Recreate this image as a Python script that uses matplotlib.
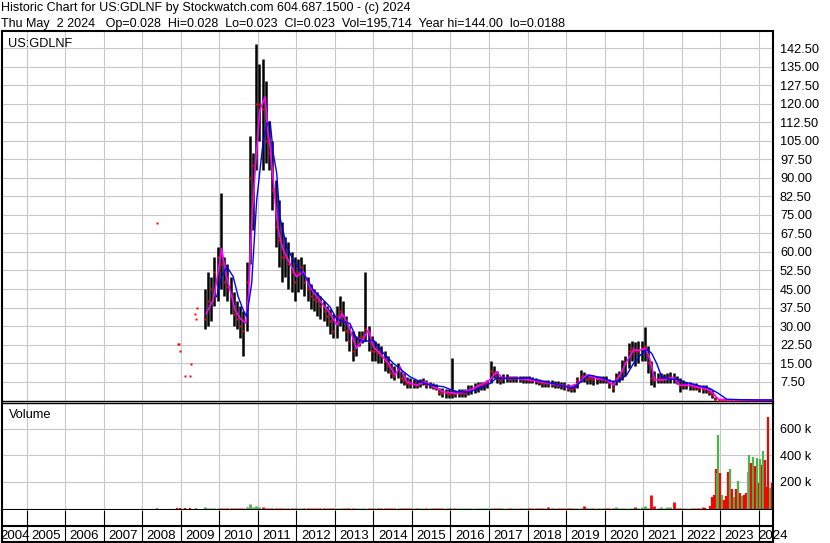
import numpy as np
import matplotlib
matplotlib.use("Agg")
import matplotlib.pyplot as plt

plt.rcParams['font.family'] = ['Liberation Sans', 'DejaVu Sans']

W, H = 830, 543

# ---- data ----
# monthly bars, Aug 2009 .. Apr 2024
high = [45, 52, 50, 58, 62,
        84, 58, 55, 50, 44, 40, 38, 36, 56, 107, 100, 144,
        136, 138, 129, 113, 105, 89, 81, 72, 66, 64, 60, 58,
        57, 58, 55, 50, 47, 45, 44, 42, 40, 38, 37, 35,
        38, 42, 40, 34, 30, 28, 26, 28, 28, 52, 30, 26,
        24, 23, 22, 20, 18, 15, 14, 15, 12, 11, 9.5, 9,
        8.5, 8, 8.5, 9, 8, 7.5, 7, 6.5, 5, 5, 4.5, 4.5,
        17, 4, 4.5, 4.5, 4.5, 6, 6, 7, 7.5, 7.5, 7.5, 8,
        16, 14, 12, 10, 10.5, 10.5, 10, 10, 10, 9.8, 9.8, 9.8,
        9.8, 9.5, 9, 8.5, 8.2, 8.2, 8, 8, 7.8, 7.8, 7.5, 7.5,
        6.5, 6, 6.5, 9.5, 12.2, 11.5, 10.5, 10.2, 10.2, 9.8, 9.8, 9.8,
        9.8, 8.5, 8, 11, 12, 16.3, 18, 23, 24, 23.7, 24, 24,
        29.7, 22, 16, 12, 11, 10.9, 10.5, 11, 11.5, 11, 10, 9,
        8, 7.5, 7.5, 7, 7, 6.1, 6, 6, 5, 4, 1.5, 0.6,
        0.5, 0.4, 0.3, 0.3, 0.25, 0.2, 0.2, 0.15, 0.15, 0.12, 0.1, 0.1,
        0.08, 0.06, 0.05, 0.04]
low = [29, 30, 32, 38, 40,
       45, 42, 40, 35, 30, 29, 25, 18, 28, 55, 69, 93,
       105, 93, 96, 93, 77, 62, 54, 48, 50, 45, 44, 40,
       44, 45, 42, 40, 37, 36, 34, 33, 32, 30, 27, 25,
       25, 30, 28, 24, 20, 16, 18, 22, 23, 24, 20, 16,
       16, 15, 15, 12, 11, 9, 8, 9, 7, 6, 5, 5,
       5, 4.8, 5.5, 6, 5, 5, 4.5, 4, 2, 1.5, 1, 1,
       1, 1.5, 1.5, 1.5, 1.5, 2, 2.5, 3, 3.5, 4, 4, 5,
       7, 9, 7, 6.5, 7, 7.5, 7.5, 7.5, 7.5, 7.2, 7, 7,
       7, 6.8, 6.5, 6, 5.5, 5.5, 5.2, 5.2, 5, 4.8, 4.5, 4.1,
       3.8, 3.4, 3.5, 4.8, 7.5, 7.5, 6.5, 6.5, 6.1, 6.5, 6.8, 6.8,
       6.8, 5, 3.4, 6, 7.5, 8.2, 10, 13, 16, 14, 15, 16,
       16, 11, 6, 5.5, 6.8, 6.8, 6.8, 7, 7, 6.8, 6.5, 3.4,
       4.5, 4.5, 4.3, 4.2, 4.1, 3.5, 3, 2.8, 2, 0.8, 0.3, 0.1,
       0.1, 0.1, 0.1, 0.08, 0.08, 0.06, 0.05, 0.05, 0.04, 0.04, 0.03, 0.03,
       0.025, 0.02, 0.02, 0.019]
close = [33, 40, 45, 52, 58,
         55, 48, 46, 42, 35, 33, 30, 28, 48, 90, 95, 120,
         120, 118, 105, 100, 85, 70, 65, 58, 58, 55, 52, 48,
         52, 54, 48, 45, 42, 41, 40, 38, 36, 34, 32, 28,
         34, 36, 32, 28, 24, 20, 22, 25, 26, 29, 24, 20,
         20, 19, 18, 16, 14, 11, 10, 13, 9, 8, 7, 6.5,
         6.5, 6, 7, 7.5, 6, 6, 5.5, 5, 3.5, 3, 3, 2.5,
         3, 2.5, 3, 3, 3, 4, 4.5, 5, 6, 6, 6.5, 7,
         12, 11, 9, 8, 9, 9, 8.5, 9, 9, 8.5, 8.5, 8.5,
         8.3, 8, 7.8, 7.5, 7, 7, 6.8, 6.5, 6.5, 6.2, 6, 5.8,
         5, 4.5, 5, 8, 10, 9.5, 8.5, 9, 8.5, 8.5, 8.5, 8.5,
         8, 7, 5, 9, 10, 12, 15, 20, 21, 20, 20, 21,
         22, 15, 9, 8, 8.5, 8.5, 8.5, 9, 9.5, 9, 8, 6,
         6, 6, 6, 5.5, 5.2, 5, 4.5, 4.5, 3.5, 2, 0.5, 0.3,
         0.3, 0.2, 0.2, 0.15, 0.15, 0.1, 0.1, 0.08, 0.08, 0.06, 0.05, 0.05,
         0.04, 0.03, 0.03, 0.028]

# odd single trades before regular trading
early_t = [2008.38, 2008.92, 2008.96, 2008.98, 2009.11, 2009.24, 2009.26, 2009.37, 2009.39, 2009.41]
early_p = [71.8, 22.7, 22.7, 20.0, 9.9, 9.9, 14.8, 35.0, 33.0, 37.4]

# moving averages (short = magenta, long = blue)
ma_short_t = [2009.66, 2009.75, 2009.84, 2009.95, 2010.06, 2010.14, 2010.23, 2010.32, 2010.41, 2010.54,
              2010.69, 2010.76, 2010.84, 2010.93, 2011.05, 2011.19, 2011.25, 2011.32, 2011.40, 2011.49,
              2011.55, 2011.66, 2011.83, 2012.0, 2012.18, 2012.35, 2012.53, 2012.70, 2012.87, 2013.05,
              2013.18, 2013.35, 2013.56, 2013.74, 2013.87, 2014.0, 2014.17, 2014.39, 2014.56, 2014.69,
              2014.86, 2015.12, 2015.34, 2015.55, 2015.81, 2016.16, 2016.5, 2016.76, 2017.02, 2017.19,
              2017.36, 2017.71, 2018.06, 2018.23, 2018.66, 2019.1, 2019.31, 2019.53, 2019.79, 2020.05,
              2020.22, 2020.4, 2020.57, 2020.75, 2020.93, 2021.07, 2021.18, 2021.3, 2021.52, 2021.78,
              2021.95, 2022.21, 2022.47, 2022.69, 2022.82, 2022.95, 2023.2, 2023.6, 2024.0, 2024.34]
ma_short_v = [35, 38, 40.5, 50, 61.4, 54, 47.3, 42, 36.5, 33.1,
              31.2, 43.2, 71.5, 93, 117.4, 122.8, 109.3, 102.5, 89, 74.2,
              67.5, 60.8, 55.4, 50, 52, 45.9, 41.9, 38.5, 35.2, 30.4,
              35.2, 30.4, 21, 25, 28.4, 21.6, 19, 14.9, 10.2, 13.6,
              7.5, 6.1, 7.5, 5.5, 3.4, 2.8, 4.1, 6.1, 8.2, 11.5,
              8.9, 8.9, 8.2, 7.8, 6.6, 5.5, 6.8, 10.2, 8.9, 8.2,
              6.1, 10.2, 15.6, 20.3, 20.3, 21, 16.3, 8.2, 8.2, 9.3,
              6.1, 6.1, 5.2, 4.4, 2.8, 0.4, 0.2, 0.15, 0.1, 0.05]
ma_long_t = [2009.93, 2010.06, 2010.2, 2010.36, 2010.49, 2010.62, 2010.71, 2010.84, 2010.97, 2011.14,
             2011.24, 2011.32, 2011.4, 2011.49, 2011.57, 2011.75, 2011.92, 2012.09, 2012.27, 2012.44,
             2012.66, 2012.87, 2013.05, 2013.22, 2013.39, 2013.56, 2013.74, 2014.0, 2014.26, 2014.52,
             2014.73, 2014.95, 2015.21, 2015.47, 2015.81, 2016.16, 2016.5, 2016.85, 2017.02, 2017.19,
             2017.54, 2018.06, 2018.23, 2018.66, 2019.18, 2019.44, 2019.6, 2019.86, 2020.22, 2020.4,
             2020.57, 2020.75, 2020.93, 2021.1, 2021.22, 2021.35, 2021.48, 2021.7, 2021.87, 2022.04,
             2022.39, 2022.73, 2022.95, 2023.17, 2023.6, 2024.0, 2024.34]
ma_long_v = [41.9, 50, 54, 50, 41.9, 36.5, 33.8, 47.3, 81, 105,
             112, 112.7, 99.9, 91.8, 74.2, 62.1, 56.7, 52.7, 49.3, 44.6,
             41.2, 37.8, 32.8, 31.8, 31.1, 25, 23.7, 24.4, 19, 14.9,
             12.2, 9.5, 7.5, 6.1, 5.5, 3.4, 3.4, 5.5, 6.8, 8.9,
             8.9, 8.9, 8.2, 6.8, 4.8, 8.2, 10.2, 9.3, 7.5, 8.2,
             10.2, 14.9, 18.3, 20.6, 19, 14.9, 9.5, 8.5, 8.5, 7.5,
             6.1, 4.8, 2.8, 0.4, 0.2, 0.12, 0.08]

# volume in thousands: monthly Aug 2009 .. Jul 2022
vol_monthly = [10, 6, 5, 4, 6,
               5, 4, 3, 4, 3, 4, 3, 5, 8, 33, 12, 18,
               10, 8, 6, 5, 4, 4, 3, 4, 3, 3, 4, 3,
               3, 4, 3, 3, 4, 3, 3, 2, 3, 3, 4, 3,
               3, 4, 3, 3, 4, 3, 3, 3, 3, 5, 3, 3,
               3, 3, 2, 3, 3, 2, 4, 3, 2, 3, 3, 2,
               2, 3, 2, 3, 2, 2, 3, 2, 2, 3, 2, 2,
               3, 2, 2, 3, 2, 3, 2, 3, 4, 3, 2, 3,
               4, 3, 3, 2, 3, 2, 3, 2, 3, 3, 2, 3,
               3, 2, 3, 3, 2, 3, 12, 3, 2, 3, 2, 3,
               2, 3, 3, 4, 5, 18, 4, 3, 3, 2, 3, 4,
               3, 4, 6, 10, 4, 3, 5, 4, 6, 7, 5, 8,
               18, 6, 105, 20, 5, 8, 6, 10, 12, 48, 6, 4,
               5, 4, 3, 6, 4, 5, 8]
early_vol_t = [2008.38, 2008.9, 2008.97, 2009.1, 2009.25, 2009.4]
early_vol = [3, 3, 2, 2, 3, 4]
early_vol_col = 'grrrrg'
late_vol_t = [2022.6, 2022.74, 2022.79, 2022.85, 2022.88, 2022.92, 2022.95, 2022.99,
              2023.05, 2023.1, 2023.15, 2023.2, 2023.25, 2023.31, 2023.36, 2023.41, 2023.46,
              2023.51, 2023.57, 2023.62, 2023.67, 2023.72, 2023.75, 2023.8, 2023.85, 2023.9,
              2023.95, 2024.0, 2024.04, 2024.08, 2024.12, 2024.16, 2024.21, 2024.24, 2024.29, 2024.34]
late_vol = [5, 15, 87, 100, 297, 266, 556, 270,
            100, 60, 90, 275, 300, 150, 85, 150, 210,
            115, 90, 105, 115, 275, 405, 340, 385, 320,
            380, 195, 370, 330, 430, 365, 160, 690, 155, 195]
late_vol_col = 'rrrrrggr' + 'grrrgrgrg' + 'rgrrsgrgr' + 'grgrgrrrg' + 'r'

years = list(range(2004, 2025))
price_ticks = [7.5 * k for k in range(1, 20)]
vol_ticks = [200000, 400000, 600000]

# ---- figure ----
GRID = '#c8c8c8'
GREEN = '#4db34d'
cmap = {'g': GREEN, 'r': '#ff0000', 's': '#a0a0a0'}
XL = (2004.36, 2024.37)

fig = plt.figure(figsize=(W / 100, H / 100), dpi=100, facecolor='white')


def box(top, bottom):
    return [2 / W, 1 - bottom / H, 771 / W, (bottom - top) / H]


ax = fig.add_axes(box(31, 400.5))
axv = fig.add_axes(box(402.5, 510))
axb = fig.add_axes(box(510, 542))

t = 2009 + (7 + np.arange(len(close)) + 0.5) / 12

# price panel
ax.vlines(t, low, high, color='black', lw=1.8, zorder=2)
ax.plot(t, close, 's', ms=2.0, color='red', mec='none', zorder=3)
ax.plot(early_t, early_p, 's', ms=2, color='red', mec='none', zorder=3)
ax.plot(ma_short_t, ma_short_v, color='#ff00ff', lw=1.2, zorder=4)
ax.plot(ma_long_t, ma_long_v, color='#0000ff', lw=1.0, zorder=5)
ax.set_xlim(XL)
ax.set_ylim(-0.1, 149.4)
ax.set_xticks(years[1:])
ax.set_yticks(price_ticks)
ax.set_yticklabels(['%.2f' % v for v in price_ticks])
ax.grid(color=GRID, lw=0.8)
ax.set_axisbelow(True)
ax.yaxis.tick_right()
ax.tick_params(axis='x', length=0, labelbottom=False)
ax.tick_params(axis='y', length=0, pad=5, labelsize=9.2)

# volume panel
VMIN = -12000
vm = np.array(vol_monthly) * 1000
tv = t[:len(vm)]
cl = np.array(close[:len(vm)])
vcol = [GREEN] + [GREEN if cl[i] >= cl[i - 1] else 'red' for i in range(1, len(cl))]
axv.vlines(tv, VMIN, vm, colors=vcol, lw=2.0)
axv.vlines(early_vol_t, VMIN, np.array(early_vol) * 1000, colors=[cmap[c] for c in early_vol_col], lw=1.6)
axv.vlines(late_vol_t, VMIN, np.array(late_vol) * 1000, colors=[cmap[c] for c in late_vol_col], lw=1.6)
axv.set_xlim(XL)
axv.set_ylim(VMIN, 800000)
axv.set_xticks(years[1:])
axv.set_yticks(vol_ticks)
axv.set_yticklabels(['%d k' % (v // 1000) for v in vol_ticks])
axv.grid(color=GRID, lw=0.8)
axv.set_axisbelow(True)
axv.yaxis.tick_right()
axv.tick_params(axis='x', length=0, labelbottom=False)
axv.tick_params(axis='y', length=0, pad=5, labelsize=9.2)

# year strip
axb.set_xlim(XL)
axb.set_ylim(0, 1)
axb.set_xticks([])
axb.set_yticks([])
axb.vlines(years[1:], 0, 1, color='black', lw=0.8)
axb.axhline(0.5, color='black', lw=1.5)
for y in years:
    if y == years[0]:
        axb.text(XL[0] - 0.05, 0.1, str(y), ha='left', va='baseline', fontsize=9.5, clip_on=False)
    elif y == years[-1]:
        axb.text(y, 0.1, str(y), ha='left', va='baseline', fontsize=9.5, clip_on=False)
    else:
        axb.text(y + 0.5, 0.1, str(y), ha='center', va='baseline', fontsize=9.5)

for a in (ax, axv, axb):
    for s in a.spines.values():
        s.set_color('black')
        s.set_linewidth(1.5)
ax.spines['bottom'].set_linewidth(1.0)
axv.spines['top'].set_linewidth(1.0)
axb.spines['top'].set_visible(False)

# header and panel captions
fig.text(1 / W, 1 - 11 / H, 'Historic Chart for US:GDLNF by Stockwatch.com 604.687.1500 - (c) 2024',
         fontsize=9, va='baseline')
fig.text(1 / W, 1 - 27 / H,
         'Thu May  2 2024   Op=0.028  Hi=0.028  Lo=0.023  Cl=0.023  Vol=195,714  Year hi=144.00  lo=0.0188',
         fontsize=9, va='baseline')
fig.text(8 / W, 1 - 46.5 / H, 'US:GDLNF', fontsize=9.2, va='baseline')
fig.text(9 / W, 1 - 417.5 / H, 'Volume', fontsize=9.2, va='baseline')

fig.savefig('out.png', dpi=100, facecolor='white')
